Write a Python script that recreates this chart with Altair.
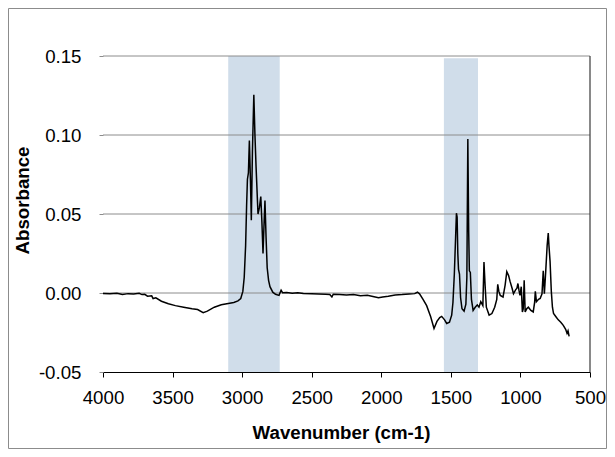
import altair as alt
import pandas as pd

wavenumber = [
    4000, 3950, 3900, 3860, 3820, 3780, 3740, 3720, 3700, 3680, 3650, 3640, 3620,
    3580, 3530, 3480, 3420, 3360, 3320, 3280, 3250, 3200, 3150, 3100, 3060, 3030,
    3010, 2995, 2985, 2975, 2968, 2962, 2955, 2948, 2940, 2934, 2926, 2916, 2908,
    2900, 2886, 2876, 2866, 2858, 2850, 2842, 2836, 2828, 2820, 2810, 2800, 2780,
    2760, 2735, 2720, 2710, 2680, 2640, 2600, 2560, 2500, 2450, 2400, 2370, 2355,
    2345, 2300, 2250, 2200, 2150, 2100, 2060, 2020, 1990, 1950, 1900, 1850, 1800,
    1760, 1740, 1725, 1700, 1674, 1645, 1621, 1600, 1580, 1566, 1545, 1530, 1510,
    1494, 1485, 1475, 1466, 1460, 1455, 1450, 1445, 1438, 1430, 1420, 1405, 1392,
    1385, 1378, 1372, 1367, 1360, 1352, 1340, 1325, 1310, 1298, 1285, 1270, 1262,
    1254, 1245, 1225, 1205, 1185, 1170, 1163, 1155, 1145, 1125, 1110, 1098, 1085,
    1075, 1060, 1050, 1035, 1025, 1018, 1010, 1003, 994, 986, 980, 973, 966, 955,
    943, 925, 908, 898, 893, 885, 870, 858, 845, 836, 828, 818, 808, 800, 795, 787,
    778, 770, 762, 745, 728, 710, 692, 675, 665, 658, 650,
]
absorbance = [
    -0.0003, -0.0005, -0.0002, -0.0009, -0.0004, -0.0006, -0.0002, -0.0010, -0.0008,
    -0.0020, -0.0018, -0.0035, -0.0030, -0.0052, -0.0068, -0.0080, -0.0090, -0.0100,
    -0.0105, -0.0124, -0.0115, -0.0090, -0.0075, -0.0066, -0.0060, -0.0050, -0.0035,
    0.0010, 0.0100, 0.0300, 0.0550, 0.0720, 0.0760, 0.0965, 0.0700, 0.0460, 0.0900,
    0.1255, 0.1000, 0.0800, 0.0500, 0.0540, 0.0610, 0.0450, 0.0250, 0.0450, 0.0585,
    0.0350, 0.0160, 0.0080, 0.0040, 0.0005, -0.0008, -0.0015, 0.0018, 0.0002, 0.0003,
    -0.0002, 0.0001, -0.0003, -0.0004, -0.0006, -0.0008, -0.0010, -0.0025, -0.0008,
    -0.0010, -0.0012, -0.0010, -0.0018, -0.0015, -0.0022, -0.0030, -0.0025, -0.0020,
    -0.0012, -0.0010, -0.0006, -0.0004, 0.0005, -0.0005, -0.0040, -0.0080, -0.0150,
    -0.0225, -0.0180, -0.0155, -0.0148, -0.0170, -0.0193, -0.0185, -0.0140, -0.0060,
    0.0120, 0.0350, 0.0505, 0.0480, 0.0250, 0.0150, 0.0120, -0.0030, -0.0100, -0.0115,
    -0.0070, 0.0100, 0.0975, 0.0400, 0.0140, 0.0130, -0.0040, -0.0110, -0.0090,
    -0.0075, -0.0090, -0.0055, -0.0080, 0.0196, 0.0050, -0.0090, -0.0140, -0.0130,
    -0.0090, -0.0040, 0.0055, 0.0010, -0.0015, -0.0025, 0.0050, 0.0135, 0.0110,
    0.0075, 0.0030, -0.0005, 0.0020, 0.0030, 0.0060, 0.0015, -0.0015, 0.0040, -0.0120,
    -0.0100, 0.0080, -0.0120, -0.0100, -0.0090, -0.0110, -0.0120, -0.0060, 0.0010,
    -0.0055, -0.0040, -0.0035, -0.0005, 0.0140, -0.0005, 0.0140, 0.0300, 0.0380,
    0.0300, 0.0200, 0.0010, -0.0090, -0.0130, -0.0150, -0.0170, -0.0185, -0.0205,
    -0.0230, -0.0255, -0.0240, -0.0275,
]

band_start = [3100, 1550]
band_end = [2730, 1305]
band_bottom = [-0.05, -0.05]
band_top = [0.15, 0.1485]

grid_values = [0.0, 0.05, 0.10, 0.15]
x_ticks = [4000, 3500, 3000, 2500, 2000, 1500, 1000, 500]
y_ticks = [-0.05, 0.0, 0.05, 0.10, 0.15]
x_edge = [500]

FONT = "Liberation Sans"
FS = 18.7

spec = pd.DataFrame({"wn": wavenumber, "abs": absorbance, "idx": list(range(len(wavenumber)))})
bands = pd.DataFrame({"s": band_start, "e": band_end, "b": band_bottom, "t": band_top})
grid = pd.DataFrame({"g": grid_values})
edge = pd.DataFrame({"x": x_edge, "y0": [y_ticks[0]], "y1": [y_ticks[-1]]})

xscale = alt.Scale(domain=[500, 4000], reverse=True, nice=False, zero=False)
yscale = alt.Scale(domain=[-0.05, 0.15], nice=False, zero=False)

x_axis = alt.Axis(
    title="Wavenumber (cm-1)",
    values=x_ticks,
    format="d",
    grid=False,
    domainColor="black",
    tickColor="black",
    tickSize=5,
    labelPadding=11,
    labelFlush=False,
    labelFont=FONT,
    labelFontSize=FS,
    labelColor="black",
    titleFont=FONT,
    titleFontSize=FS,
    titleFontWeight="bold",
    titleColor="black",
    titleX=238,
    titleY=66,
    titleBaseline="alphabetic",
)
y_axis = alt.Axis(
    title="Absorbance",
    values=y_ticks,
    format=".2f",
    labelExpr="replace(datum.label, '\u2212', '-')",
    grid=False,
    domain=False,
    tickColor="#8C8C8C",
    tickSize=4,
    labelPadding=18,
    labelFont=FONT,
    labelFontSize=FS,
    labelColor="black",
    titleFont=FONT,
    titleFontSize=FS,
    titleFontWeight="bold",
    titleColor="black",
    titleX=-75,
    titleY=144,
    titleBaseline="alphabetic",
)

band_layer = alt.Chart(bands).mark_rect(color="#D0DDEA").encode(
    x=alt.X("s:Q", scale=xscale, axis=x_axis),
    x2="e:Q",
    y=alt.Y("b:Q", scale=yscale, axis=y_axis),
    y2="t:Q",
)

grid_layer = alt.Chart(grid).mark_rule(color="#8C8C8C", strokeWidth=1).encode(
    y=alt.Y("g:Q", scale=yscale, axis=y_axis)
)

edge_layer = alt.Chart(edge).mark_rule(color="#3A3A3A", strokeWidth=1.2).encode(
    x=alt.X("x:Q", scale=xscale, axis=x_axis),
    y=alt.Y("y0:Q", scale=yscale, axis=y_axis),
    y2="y1:Q",
)

line_layer = alt.Chart(spec).mark_line(color="black", strokeWidth=1.5).encode(
    x=alt.X("wn:Q", scale=xscale, axis=x_axis),
    y=alt.Y("abs:Q", scale=yscale, axis=y_axis),
    order="idx:Q",
)

border = alt.Chart(pd.DataFrame({"a": [0]})).mark_rect(
    fill=None, stroke="#8C8C8C", strokeWidth=1
).encode(
    x=alt.value(-94.5), x2=alt.value(503.5), y=alt.value(-47.5), y2=alt.value(392.5)
)

chart = alt.layer(band_layer, grid_layer, edge_layer, line_layer, border).properties(
    width=487,
    height=316,
    background="white",
    autosize=alt.AutoSizeParams(type="none"),
    padding={"left": 95, "top": 48, "right": 17, "bottom": 77},
).configure_view(stroke=None)

chart.save("out.html", embed_options={"renderer": "svg", "actions": False})
